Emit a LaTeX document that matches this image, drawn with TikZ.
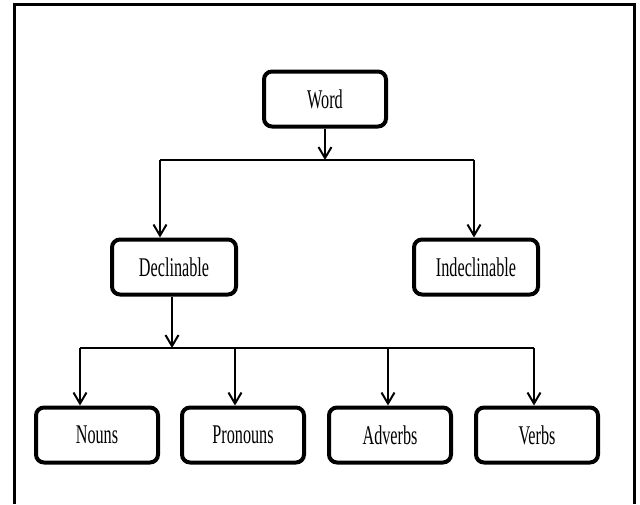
\documentclass[tikz,border=0pt]{standalone}
\usepackage{fontspec}
\setmainfont[FakeStretch=0.6]{Liberation Serif}
\usetikzlibrary{arrows.meta}
\tikzset{
      wordbox/.style={draw=black, line width=4pt, rounded corners=8pt, minimum width=122pt,
            minimum height=55pt, inner sep=0pt, font=\fontsize{27}{30}\selectfont},
      branch/.style={draw=black, line width=2pt},
      tobox/.style={branch, -{Straight Barb[length=11pt,width=13pt,line width=2pt]}},
}

\begin{document}
\begin{tikzpicture}[x=1pt, y=-1pt]
        \useasboundingbox (0,0) rectangle (640,504);
        % frame
        \draw[line width=3pt] (14,504) -- (14,4) -- (634,4) -- (634,504);

        % Draw the boxes
        \node[wordbox] (word) at (325,99) {Word};
        \node[wordbox, minimum width=124pt] (decl) at (174,267) {Declinable};
        \node[wordbox, minimum width=124pt] (indecl) at (476,267) {Indeclinable};
        \node[wordbox] (nouns) at (97,435) {Nouns};
        \node[wordbox] (pronouns) at (243,435) {Pronouns};
        \node[wordbox] (adverbs) at (390,435) {Adverbs};
        \node[wordbox] (verbs) at (537,435) {Verbs};

        % Draw the first split
        \coordinate (wsplit) at (325,160);
        \coordinate (lbus) at (160,160);
        \coordinate (rbus) at (474,160);
        \draw[tobox] (word) -- (wsplit);
        \draw[branch] (lbus) -- (rbus);
        \draw[tobox] (lbus) -- (lbus |- decl.north);
        \draw[tobox] (rbus) -- (rbus |- indecl.north);

        % Draw the second split
        \coordinate (dsplit) at (172,348);
        \coordinate (nbus) at (80,348);
        \coordinate (pbus) at (235,348);
        \coordinate (abus) at (388,348);
        \coordinate (vbus) at (534,348);
        \draw[tobox] (decl.south -| dsplit) -- (dsplit);
        \draw[branch] (nbus) -- (vbus);
        \draw[tobox] (nbus) -- (nbus |- nouns.north);
        \draw[tobox] (pbus) -- (pbus |- pronouns.north);
        \draw[tobox] (abus) -- (abus |- adverbs.north);
        \draw[tobox] (vbus) -- (vbus |- verbs.north);

\end{tikzpicture}
\end{document}
